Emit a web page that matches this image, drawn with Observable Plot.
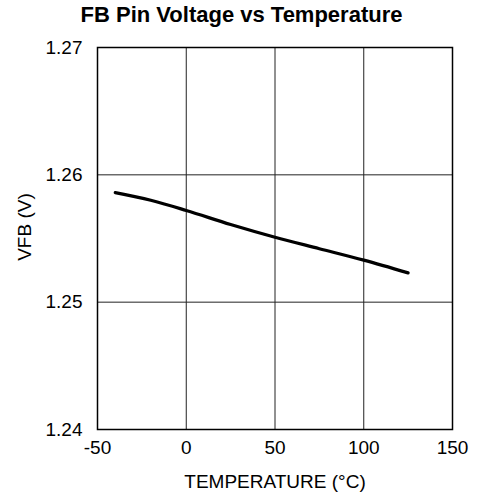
<!DOCTYPE html>
<html>
<head>
<meta charset="utf-8">
<script src="https://cdn.jsdelivr.net/npm/d3@7"></script>
<script src="https://cdn.jsdelivr.net/npm/@observablehq/plot@0.6"></script>
<style>
  body { margin: 0; background: #fff; font-family: "Liberation Sans", Arial, sans-serif; }
  #title { height: 34px; padding-top: 4px; line-height: 22px; text-align: center; font-weight: bold; font-size: 22px; color: #000; }
</style>
</head>
<body>
<div id="title">FB Pin Voltage vs Temperature</div>
<div id="chart"></div>
<script>
const temperature = [-40, -20, 0, 25, 50, 75, 100, 125];
const vfb = [1.2586, 1.2580, 1.2572, 1.2561, 1.2551, 1.2542, 1.2533, 1.2523];
const xTicks = [-50, 0, 50, 100, 150];
const yTicks = [1.24, 1.25, 1.26, 1.27];
const xGrid = [0, 50, 100];
const yGrid = [1.25, 1.26];
const xLabel = "TEMPERATURE (°C)";
const yLabel = "VFB (V)";

const data = temperature.map((t, i) => ({t, v: vfb[i]}));

const chart = Plot.plot({
  width: 483,
  height: 460,
  marginLeft: 97,
  marginRight: 31,
  marginTop: 9,
  marginBottom: 69,
  style: {fontFamily: "'Liberation Sans', Arial, sans-serif", fontSize: "19px", color: "#000", background: "#fff"},
  x: {domain: [-50, 150]},
  y: {domain: [1.24, 1.27]},
  marks: [
    Plot.gridX(xGrid, {stroke: "#222", strokeOpacity: 1, strokeWidth: 1}),
    Plot.gridY(yGrid, {stroke: "#222", strokeOpacity: 1, strokeWidth: 1}),
    Plot.frame({stroke: "#000", strokeWidth: 1.5}),
    Plot.axisX(xTicks, {tickSize: 0, tickPadding: 11, tickFormat: d => String(d), label: xLabel, labelArrow: "none", labelAnchor: "center", labelOffset: 58, fontSize: 19}),
    Plot.axisY(yTicks, {tickSize: 0, tickPadding: 15, tickFormat: d3.format(".2f"), label: null, fontSize: 19}),
    Plot.text([yLabel], {frameAnchor: "left", y: [1.2559], dx: -73, rotate: -90, text: d => d, fontSize: 19, textAnchor: "middle", lineAnchor: "middle", fill: "#000"}),
    Plot.line(data, {x: "t", y: "v", stroke: "#000", strokeWidth: 3.2, curve: "monotone-x"})
  ]
});
document.getElementById("chart").appendChild(chart);
</script>
</body>
</html>
